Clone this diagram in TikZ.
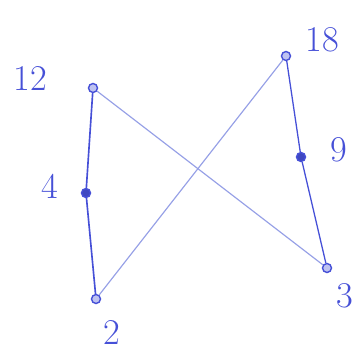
\documentclass[tikz,border=0pt]{standalone}
\usepackage{tikz}
\usetikzlibrary{positioning}
\definecolor{penColor}{RGB}{70,80,215}
\definecolor{paleColor}{RGB}{150,160,230}
\tikzstyle{vertex} = [circle, draw=penColor, fill=penColor!35, line width=1.2pt, inner sep=0pt, minimum size=0.27cm]
\tikzstyle{solidvertex} = [vertex, fill=penColor!90!black]
\tikzstyle{num} = [text=penColor, font=\fontsize{31}{31}\selectfont]
\tikzstyle{pen} = [penColor, line width=1.4pt]
\tikzstyle{pale} = [paleColor, line width=1pt]

\begin{document}
\begin{tikzpicture}[x=0.03cm, y=-0.03cm]
            \useasboundingbox (0,0) rectangle (360,355);

            % Vertices
            \node[vertex] (v12) at (93, 88) {};
            \node[solidvertex] (v4) at (86, 193) {};
            \node[vertex] (v2) at (96, 299) {};
            \node[vertex] (v18) at (286, 56) {};
            \node[solidvertex] (v9) at (301, 157) {};
            \node[vertex] (v3) at (327, 268) {};

            % Labels
            \node[num] (l12) at (30, 78) {12};
            \node[num] (l4) at (50, 186) {4};
            \node[num] (l2) at (112, 332) {2};
            \node[num] (l18) at (322, 40) {18};
            \node[num] (l9) at (339, 150) {9};
            \node[num] (l3) at (345, 296) {3};

            % Edges
            \draw[pen] (v12) -- (v4) -- (v2);
            \draw[pen, line width=1.1pt] (v18) -- (v9) -- (v3);
            \draw[pale] (v12) -- (v3);
            \draw[pale] (v2) -- (v18);

        \end{tikzpicture}
\end{document}
